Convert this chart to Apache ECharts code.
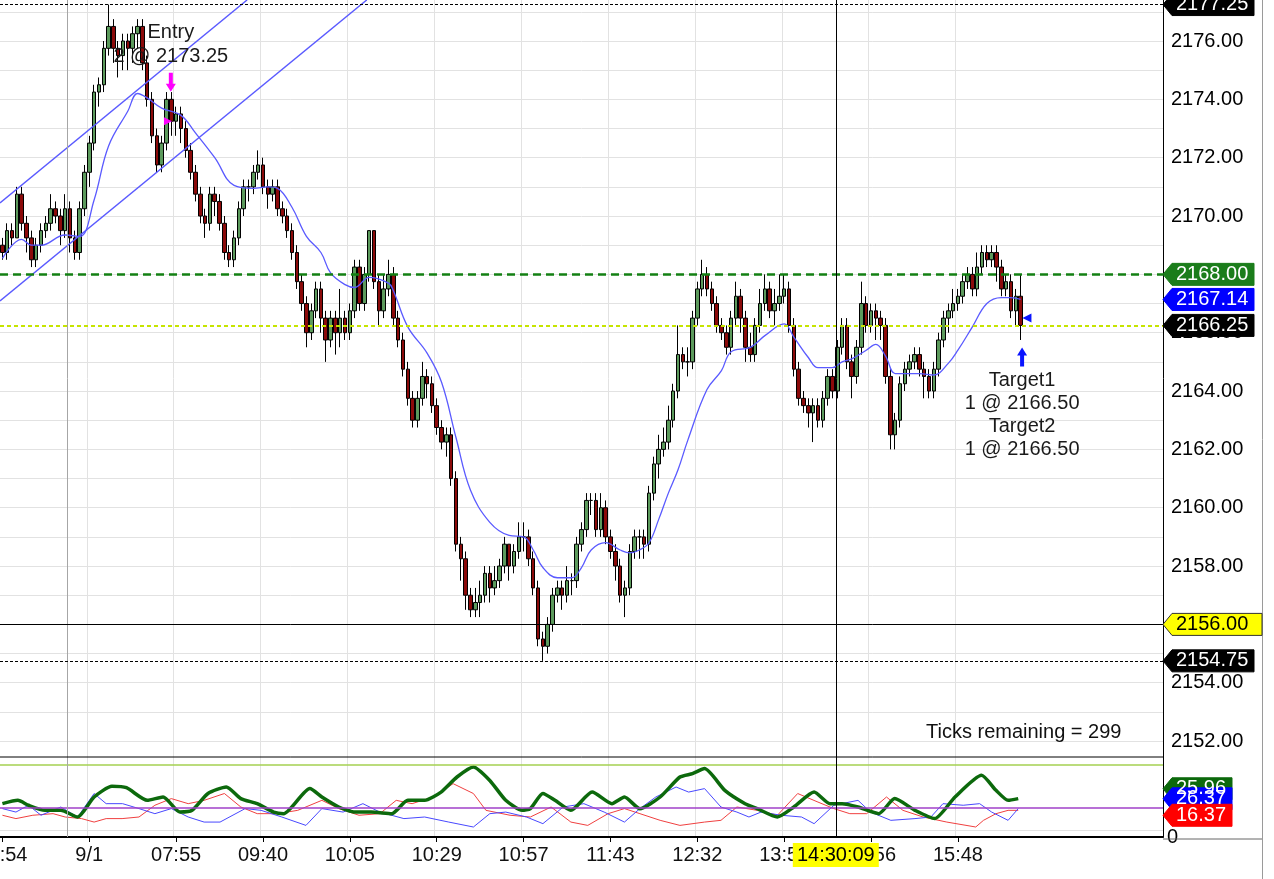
<!DOCTYPE html>
<html>
<head>
<meta charset="utf-8">
<script src="https://cdn.jsdelivr.net/npm/echarts@6/dist/echarts.min.js"></script>
<style>
  html, body { margin: 0; padding: 0; background: #fff; }
  #main { width: 1274px; height: 879px; }
</style>
</head>
<body>
<div id="main"></div>
<script>
// bar data (tick bars)
var opens = [
  2169.0,2168.75,2169.5,2169.25,2170.75,2169.75,2169.25,2168.5,2169.0,2169.5,
  2169.75,2170.25,2170.0,2169.5,2170.25,2169.25,2168.75,2170.25,2171.5,2172.5,
  2174.25,2174.5,2175.75,2176.5,2175.75,2175.5,2176.0,2175.75,2176.25,2176.5,
  2175.25,2174.0,2172.75,2171.75,2172.5,2174.0,2173.25,2173.5,2173.0,2172.25,
  2171.5,2170.75,2170.0,2169.75,2170.75,2170.5,2169.75,2168.75,2168.5,2169.25,
  2170.25,2171.0,2171.0,2171.5,2171.75,2171.0,2170.75,2171.0,2170.25,2170.0,
  2169.5,2168.75,2167.75,2167.0,2166.0,2166.75,2167.5,2166.5,2165.75,2166.5,
  2166.0,2166.5,2166.0,2166.75,2168.25,2167.0,2168.0,2169.5,2167.75,2166.75,
  2167.5,2168.0,2166.5,2165.75,2164.75,2163.75,2163.0,2163.75,2164.5,2164.25,
  2163.5,2162.75,2162.25,2162.5,2161.0,2158.75,2158.25,2157.0,2156.5,2156.75,
  2157.0,2157.75,2157.25,2157.5,2158.0,2158.75,2158.0,2158.5,2159.0,2159.0,
  2158.25,2157.25,2155.5,2155.25,2156.0,2157.0,2157.25,2157.0,2157.5,2157.5,
  2158.75,2159.25,2160.25,2160.25,2159.25,2160.0,2159.0,2158.5,2158.0,2157.0,
  2157.25,2158.5,2159.0,2159.0,2158.75,2160.5,2161.5,2162.0,2162.25,2163.0,
  2164.0,2165.25,2165.0,2165.0,2166.5,2167.5,2168.0,2167.5,2167.0,2166.25,
  2166.0,2165.5,2166.5,2167.25,2166.5,2165.5,2165.25,2166.25,2167.0,2167.5,
  2166.75,2167.0,2167.25,2167.5,2166.25,2164.75,2163.75,2163.5,2163.25,2163.5,
  2163.0,2163.75,2164.5,2164.0,2165.5,2166.25,2165.0,2164.5,2165.5,2167.0,
  2166.25,2166.75,2166.5,2166.25,2164.5,2162.5,2163.0,2164.25,2164.75,2165.0,
  2165.25,2164.75,2164.5,2164.0,2164.75,2165.75,2166.5,2166.75,2167.0,2167.25,
  2167.75,2168.0,2167.5,2168.25,2168.75,2168.5,2168.75,2168.25,2167.5,2167.75,
  2166.75,2167.25
];
var closes = [
  2168.75,2169.5,2169.25,2170.75,2169.75,2169.25,2168.5,2169.0,2169.5,2169.75,
  2170.25,2170.0,2169.5,2170.25,2169.25,2168.75,2170.25,2171.5,2172.5,2174.25,
  2174.5,2175.75,2176.5,2175.75,2175.5,2176.0,2175.75,2176.25,2176.5,2175.25,
  2174.0,2172.75,2171.75,2172.5,2174.0,2173.25,2173.5,2173.0,2172.25,2171.5,
  2170.75,2170.0,2169.75,2170.75,2170.5,2169.75,2168.75,2168.5,2169.25,2170.25,
  2171.0,2171.0,2171.5,2171.75,2171.0,2170.75,2171.0,2170.25,2170.0,2169.5,
  2168.75,2167.75,2167.0,2166.0,2166.75,2167.5,2166.5,2165.75,2166.5,2166.0,
  2166.5,2166.0,2166.75,2168.25,2167.0,2168.0,2169.5,2167.75,2166.75,2167.5,
  2168.0,2166.5,2165.75,2164.75,2163.75,2163.0,2163.75,2164.5,2164.25,2163.5,
  2162.75,2162.25,2162.5,2161.0,2158.75,2158.25,2157.0,2156.5,2156.75,2157.0,
  2157.75,2157.25,2157.5,2158.0,2158.75,2158.0,2158.5,2159.0,2159.0,2158.25,
  2157.25,2155.5,2155.25,2156.0,2157.0,2157.25,2157.0,2157.5,2157.5,2158.75,
  2159.25,2160.25,2160.25,2159.25,2160.0,2159.0,2158.5,2158.0,2157.0,2157.25,
  2158.5,2159.0,2159.0,2158.75,2160.5,2161.5,2162.0,2162.25,2163.0,2164.0,
  2165.25,2165.0,2165.0,2166.5,2167.5,2168.0,2167.5,2167.0,2166.25,2166.0,
  2165.5,2166.5,2167.25,2166.5,2165.5,2165.25,2166.25,2167.0,2167.5,2166.75,
  2167.0,2167.25,2167.5,2166.25,2164.75,2163.75,2163.5,2163.25,2163.5,2163.0,
  2163.75,2164.5,2164.0,2165.5,2166.25,2165.0,2164.5,2165.5,2167.0,2166.25,
  2166.75,2166.5,2166.25,2164.5,2162.5,2163.0,2164.25,2164.75,2165.0,2165.25,
  2164.75,2164.5,2164.0,2164.75,2165.75,2166.5,2166.75,2167.0,2167.25,2167.75,
  2168.0,2167.5,2168.25,2168.75,2168.5,2168.75,2168.25,2167.5,2167.75,2166.75,
  2167.25,2166.25
];
var lows = [
  2168.5,2168.5,2169.0,2169.25,2169.5,2168.75,2168.25,2168.25,2168.75,2169.25,
  2169.5,2169.75,2169.0,2169.25,2168.75,2168.5,2168.5,2170.0,2171.0,2172.25,
  2173.75,2174.25,2175.5,2175.25,2174.75,2175.0,2175.0,2175.25,2175.75,2175.0,
  2173.75,2172.5,2171.5,2171.5,2172.25,2172.75,2172.75,2172.5,2172.0,2171.25,
  2170.5,2169.75,2169.25,2169.5,2170.0,2169.5,2168.5,2168.25,2168.25,2169.0,
  2170.0,2170.5,2170.75,2171.25,2170.75,2170.25,2170.5,2170.0,2169.75,2169.25,
  2168.5,2167.5,2166.75,2165.5,2165.75,2166.5,2166.0,2165.0,2165.5,2165.25,
  2165.5,2165.75,2165.75,2166.5,2166.75,2166.75,2167.75,2167.5,2166.25,2166.5,
  2167.25,2166.25,2165.5,2164.5,2163.5,2162.75,2162.75,2163.5,2163.75,2163.25,
  2162.5,2162.0,2161.75,2160.75,2158.5,2157.5,2156.5,2156.25,2156.25,2156.25,
  2156.75,2156.75,2157.0,2157.25,2157.75,2157.5,2157.75,2158.25,2158.5,2158.0,
  2157.0,2155.25,2154.75,2155.0,2155.75,2156.75,2156.5,2156.75,2157.0,2157.25,
  2158.5,2159.0,2159.75,2159.0,2159.0,2158.75,2158.25,2157.5,2156.75,2156.25,
  2157.0,2158.25,2158.25,2158.25,2158.5,2160.25,2161.0,2161.75,2162.0,2162.75,
  2163.75,2164.75,2164.5,2164.75,2166.25,2167.25,2167.25,2166.75,2166.0,2165.75,
  2165.25,2165.25,2166.25,2166.0,2165.0,2165.0,2165.0,2166.0,2166.75,2166.5,
  2166.25,2166.75,2167.0,2166.0,2164.5,2163.5,2163.25,2162.75,2162.25,2162.75,
  2162.75,2163.5,2163.75,2163.75,2165.25,2164.75,2163.75,2164.25,2165.25,2166.0,
  2166.0,2165.75,2165.75,2164.25,2162.0,2162.0,2162.75,2164.0,2164.5,2164.75,
  2164.5,2163.75,2163.75,2163.75,2164.5,2165.5,2166.0,2166.5,2166.75,2167.0,
  2167.5,2167.25,2167.25,2168.0,2168.25,2168.25,2167.75,2167.25,2167.25,2166.5,
  2166.25,2165.75
];
var highs = [
  2169.25,2169.75,2169.75,2171.0,2171.0,2170.0,2169.5,2169.25,2169.75,2170.0,
  2170.75,2170.5,2170.25,2170.75,2170.5,2169.5,2170.5,2171.75,2172.75,2174.5,
  2174.75,2176.0,2177.25,2176.75,2176.0,2176.25,2176.25,2176.5,2176.75,2176.75,
  2175.5,2174.25,2173.0,2172.75,2174.25,2174.25,2173.75,2173.75,2173.25,2172.5,
  2171.75,2171.0,2170.25,2171.0,2171.0,2170.75,2170.0,2169.0,2169.5,2170.5,
  2171.25,2171.25,2171.75,2172.25,2172.0,2171.25,2171.25,2171.25,2170.5,2170.25,
  2169.75,2169.0,2168.0,2167.25,2167.0,2167.75,2167.75,2166.75,2166.75,2166.75,
  2167.5,2166.75,2167.0,2168.5,2168.5,2168.25,2169.5,2169.5,2168.0,2168.0,
  2168.5,2168.25,2166.75,2166.0,2165.0,2164.0,2164.0,2165.0,2164.75,2164.5,
  2163.75,2163.0,2162.75,2162.75,2161.25,2159.0,2158.5,2157.25,2157.25,2157.5,
  2158.0,2158.0,2158.0,2158.25,2159.0,2158.75,2158.75,2159.5,2159.5,2159.25,
  2158.5,2157.5,2155.75,2156.25,2157.25,2157.5,2157.5,2158.0,2157.75,2159.0,
  2159.5,2160.5,2160.5,2160.5,2160.5,2160.25,2159.25,2158.75,2158.25,2157.5,
  2158.75,2159.25,2159.25,2159.25,2160.75,2161.75,2162.5,2162.75,2163.5,2164.25,
  2166.25,2165.5,2165.5,2166.75,2167.75,2168.5,2168.25,2167.75,2167.25,2166.5,
  2166.25,2166.75,2167.75,2167.5,2166.75,2166.0,2166.5,2167.5,2168.0,2167.75,
  2167.5,2168.0,2168.0,2167.75,2166.5,2165.0,2164.0,2163.75,2163.75,2163.75,
  2164.0,2164.75,2164.75,2165.75,2166.5,2166.5,2165.25,2165.75,2167.75,2167.25,
  2167.0,2167.0,2166.75,2166.5,2164.75,2163.25,2164.5,2165.0,2165.25,2165.5,
  2165.5,2165.0,2164.75,2165.0,2166.0,2166.75,2167.0,2167.5,2167.5,2168.0,
  2168.25,2168.25,2168.75,2169.0,2169.0,2169.0,2169.0,2168.5,2168.0,2168.0,
  2167.5,2168.0
];

// moving average [bar, price]
var maPoints = [
  [0,2168.55],[4,2169.2],[6,2169.0],[8,2169.0],[13,2169.35],[16,2169.3],[19,2170.55],
  [22,2172.4],[26,2173.6],[28,2174.2],[30,2174.05],[33,2173.7],[37,2173.45],[40,2172.85],
  [44,2172.0],[48,2171.05],[52,2170.95],[55,2171.0],[57,2170.95],[60,2170.3],[63,2169.3],
  [66,2168.75],[68,2168.05],[71,2167.65],[73,2167.55],[76,2167.9],[80,2167.7],[81,2167.45],
  [84,2166.2],[88,2165.3],[91,2164.3],[94,2162.4],[97,2160.6],[101,2159.5],[105,2159.05],
  [108,2159.0],[110,2158.55],[112,2157.95],[115,2157.6],[118,2157.6],[120,2157.95],
  [122,2158.55],[125,2158.8],[128,2158.55],[130,2158.45],[132,2158.55],[134,2158.8],
  [136,2159.6],[138,2160.5],[140,2161.3],[142,2162.3],[146,2164.05],[149,2164.7],
  [151,2165.35],[155,2165.5],[158,2165.9],[162,2166.3],[164,2165.85],[167,2165.15],
  [169,2164.8],[172,2164.8],[174,2165.0],[176,2165.1],[179,2165.4],[181,2165.6],
  [183,2165.2],[185,2164.6],[187,2164.6],[190,2164.6],[193,2164.55],[196,2164.95],
  [198,2165.4],[201,2166.2],[204,2167.0],[207,2167.2],[209,2167.2],[211,2167.14]
];
var channelUpper = [[-0.5,2170.45],[50.7,2177.41]];
var channelLower = [[-0.5,2167.09],[75.5,2177.41]];

// lower panel: ADX, +DI, -DI  [bar, value]
var adxPoints = [
  [0,23],[3.2,25.3],[5.4,21.9],[8.8,18.4],[12.1,18.4],[15.6,13.8],[19,27.6],[22.7,35],
  [25.7,34],[30,25.3],[33.3,27.6],[36.8,17.2],[39.3,18.4],[42.6,30],[46.4,34.5],[49.4,26.5],
  [52.8,23],[56.2,17.2],[58.3,16.1],[63.7,33.4],[66.2,27.6],[69.7,20.7],[73.1,17.2],
  [76.4,17.2],[80.7,16.1],[84,25.3],[87.5,25.3],[90.9,31],[94.2,41.4],[97.6,48.3],[101,39],
  [104.3,25.3],[107.7,18.4],[109.4,19.6],[112,30],[114.5,25.3],[117.8,18.4],[122.2,31],
  [126.3,23],[128.9,27.6],[132.1,19.5],[136.3,27.6],[140.4,41.4],[143,43.7],[145.5,47.2],
  [149.7,32.2],[153.9,23],[156.4,19.6],[160.6,13.8],[164,20.7],[168.2,31],[171.5,23],
  [174,23],[177.3,20.7],[181.6,16.1],[184.9,26.5],[189.1,18.4],[193.2,12.7],[197.4,27.6],
  [202.9,42.6],[205.9,32.2],[208.4,25.3],[210.5,26.5]
];
var plusDiPoints = [
  [0,19.6],[2.8,17.2],[5.4,21.9],[8,15],[12.1,20.7],[15.6,13.8],[19,30],[21.5,23],[24.9,23],
  [28.3,19.6],[31.6,16.1],[35,19.6],[38.5,13.8],[41.8,10.3],[45.1,10.3],[50.3,19.6],[53.6,18.4],
  [57.9,13.8],[62.9,8],[66.2,19.6],[70.6,17.2],[74.7,23],[78.2,17.2],[83.2,12.7],[87.5,13.8],
  [92.5,10.3],[97.6,6.9],[101,16.1],[104.3,17.2],[108.6,13.8],[112,9.2],[116.2,20.7],
  [120.5,23],[124.7,17.2],[128.9,10.3],[132.1,19.6],[135.4,27.6],[139.6,34.5],[142.2,31],
  [145.5,33.4],[148.9,20.7],[152.2,17.2],[154.7,13.8],[157.2,17.2],[161.4,15],[165.6,13.8],
  [168.2,9.2],[172.3,21.9],[177.3,25.3],[179.9,17.2],[184.1,11.5],[189.1,12.7],[192.4,13.8],
  [194.9,23],[199.1,21.9],[202.5,23],[205,17.2],[208.4,11.5],[210.5,19.6]
];
var minusDiPoints = [
  [0,15],[2.8,12.7],[6.3,15],[10.5,16.1],[13,13.8],[16.4,12.7],[19,10.3],[21.5,12.7],
  [24.8,12.7],[28.3,13.8],[31.6,21.9],[35,26.5],[38.5,23],[41.8,25.3],[46,30],[49.4,20.7],
  [52.8,16.1],[57,16.1],[61.2,18.4],[66.2,25.3],[69.7,19.6],[73.9,15],[78.2,16.1],[81.6,25.3],
  [84.9,23],[89.2,27.6],[93.4,36.8],[97.6,30],[100.2,18.4],[105.2,15],[109.4,13.8],
  [113.7,20.7],[117.8,10.3],[121.3,8],[125.5,16.1],[128.9,19.6],[132.1,16.1],[136.3,11.5],
  [140.4,8],[145.5,10.3],[148.9,11.5],[152.2,20.7],[156.4,18.4],[160.6,15],[164.8,30],
  [169,24.1],[172.3,19.6],[175.6,16.1],[179.1,16.1],[183.2,27.6],[186.6,18.4],[190.8,13.8],
  [195.7,10.3],[201.7,6.9],[203.3,11.5],[205.9,16.1],[208.4,18.4],[210.5,18.4]
];

var tickLabels = ['15:54','9/1','07:55','09:40','10:05','10:29','10:57','11:43','12:32','13:54','14:56','15:48'];
var priceLabels = [2152,2154,2156,2158,2160,2162,2164,2166,2168,2170,2172,2174,2176];
var priceGrid = [];
for (var p = 2152; p <= 2177; p++) priceGrid.push(p);

var entryMark = [34.9, 2174.59];
var entryFill = [34.3, 2173.25];
var targetMark = [211.3, 2165.17];
var targetFill = [212.3, 2166.5];
var crossBar = 172.7, crossPrice = 2156.0;
var sessionBar = 13.4;

var N_CAT = 241, STEP = 18;
var cats = [];
for (var i = 0; i < N_CAT; i++) cats.push(String(i));
var candles = opens.map(function (o, i) { return [o, closes[i], lows[i], highs[i]]; });

var FONT = '"Liberation Sans", Arial, sans-serif';
var GRIDC = '#e2e2e2';
function showTick(index) { return index % STEP === 0 && index / STEP < tickLabels.length; }
function showSplit(index) { return index > 0 && showTick(index); }

var chart = echarts.init(document.getElementById('main'));

var option = {
  animation: false,
  backgroundColor: '#fff',
  textStyle: { fontFamily: FONT },
  grid: [
    { left: 0, right: 111, top: 0, height: 757, containLabel: false, outerBoundsMode: 'none' },
    { left: 0, right: 111, top: 757, height: 80, containLabel: false, outerBoundsMode: 'none' }
  ],
  xAxis: [
    { type: 'category', gridIndex: 0, data: cats, boundaryGap: true,
      axisLine: { show: false }, axisTick: { show: false }, axisLabel: { show: false },
      splitLine: { show: true, interval: showSplit, lineStyle: { color: GRIDC, width: 1 } } },
    { type: 'category', gridIndex: 1, data: cats, boundaryGap: true,
      axisLine: { show: true, onZero: false, lineStyle: { color: '#000', width: 2 } },
      axisTick: { show: true, alignWithLabel: true, interval: showTick, length: 5, lineStyle: { color: '#000' } },
      axisLabel: { interval: showTick, fontSize: 20, color: '#111', margin: 8,
        formatter: function (v, idx) { return tickLabels[Math.round(idx / STEP)] || ''; } },
      splitLine: { show: true, interval: showSplit, lineStyle: { color: GRIDC, width: 1 } } },
    { type: 'value', gridIndex: 0, min: -0.5, max: N_CAT - 0.5, show: false },
    { type: 'value', gridIndex: 1, min: -0.5, max: N_CAT - 0.5, show: false }
  ],
  yAxis: [
    { type: 'value', gridIndex: 0, position: 'right', min: 2151.454, max: 2177.406,
      axisLine: { show: true, onZero: false, lineStyle: { color: '#000', width: 1 } },
      axisTick: { show: false, customValues: priceGrid },
      axisLabel: { customValues: priceLabels, fontSize: 20, color: '#000', margin: 8,
        formatter: function (v) { return Number(v).toFixed(2); } },
      splitLine: { show: true, lineStyle: { color: GRIDC, width: 1 } } },
    { type: 'value', gridIndex: 1, position: 'right', min: 0, max: 55.2,
      axisLine: { show: true, onZero: false, lineStyle: { color: '#000', width: 1 } },
      axisTick: { show: false },
      axisLabel: { customValues: [0], fontSize: 20, color: '#000', margin: 4 },
      splitLine: { show: false } }
  ],
  series: [
    { type: 'candlestick', xAxisIndex: 0, yAxisIndex: 0, data: candles, barWidth: 4,
      itemStyle: { color: '#5c9a5c', color0: '#8b0a0a', borderColor: '#000', borderColor0: '#000', borderWidth: 1 } },
    { type: 'line', xAxisIndex: 2, yAxisIndex: 0, data: maPoints, smooth: 0.4, symbol: 'none',
      lineStyle: { color: '#5a5aff', width: 1.3 }, z: 3,
      markLine: { silent: true, symbol: ['none', 'none'], label: { show: false },
        data: [
          { xAxis: sessionBar, lineStyle: { color: '#a6a6a6', width: 1, type: 'solid' } },
          { yAxis: 2177.25, lineStyle: { color: '#000', width: 1, type: [3, 2] } },
          { yAxis: 2154.75, lineStyle: { color: '#000', width: 1, type: [3, 2] } },
          { yAxis: 2168.0, lineStyle: { color: '#138013', width: 2.5, type: [8, 5] } },
          { yAxis: 2166.25, lineStyle: { color: '#c6e400', width: 2, type: [4, 3] } },
          { yAxis: crossPrice, lineStyle: { color: '#000', width: 1, type: 'solid' } },
          { xAxis: crossBar, lineStyle: { color: '#000', width: 1, type: 'solid' } }
        ] } },
    { type: 'line', xAxisIndex: 2, yAxisIndex: 0, data: channelUpper, symbol: 'none',
      lineStyle: { color: '#5a5aff', width: 1.3 } },
    { type: 'line', xAxisIndex: 2, yAxisIndex: 0, data: channelLower, symbol: 'none',
      lineStyle: { color: '#5a5aff', width: 1.3 } },
    { type: 'scatter', xAxisIndex: 2, yAxisIndex: 0, z: 5, itemStyle: { opacity: 1 },
      data: [
        { value: entryMark, symbol: 'path://M3,0L7,0L7,11L10,11L5,19L0,11L3,11Z', symbolSize: [10, 19],
          itemStyle: { color: '#ff00ff', opacity: 1 },
          label: { show: true, position: 'top', distance: 4, formatter: 'Entry\n2 @ 2173.25',
            fontSize: 20, lineHeight: 24, color: '#1a1a1a', align: 'center', opacity: 1 } },
        { value: entryFill, symbol: 'triangle', symbolSize: 8, symbolRotate: -90, itemStyle: { color: '#ff00ff', opacity: 1 } },
        { value: targetMark, symbol: 'path://M5,0L10,8L7,8L7,19L3,19L3,8L0,8Z', symbolSize: [10, 19],
          itemStyle: { color: '#0a14ff', opacity: 1 },
          label: { show: true, position: 'bottom', distance: 3,
            formatter: 'Target1\n1 @ 2166.50\nTarget2\n1 @ 2166.50',
            fontSize: 20, lineHeight: 23, color: '#1a1a1a', align: 'center', opacity: 1 } },
        { value: targetFill, symbol: 'triangle', symbolSize: 9, symbolRotate: 90, itemStyle: { color: '#0a14ff', opacity: 1 } }
      ] },
    { type: 'line', xAxisIndex: 3, yAxisIndex: 1, data: minusDiPoints, symbol: 'none',
      lineStyle: { color: '#f04040', width: 1 } },
    { type: 'line', xAxisIndex: 3, yAxisIndex: 1, data: plusDiPoints, symbol: 'none',
      lineStyle: { color: '#4848ff', width: 1 } },
    { type: 'line', xAxisIndex: 3, yAxisIndex: 1, data: adxPoints, symbol: 'none', smooth: 0.2,
      lineStyle: { color: '#0c690c', width: 3.5 }, z: 4,
      markLine: { silent: true, symbol: ['none', 'none'], label: { show: false },
        data: [
          { yAxis: 4.7, lineStyle: { color: GRIDC, width: 1, type: 'solid' } },
          { yAxis: 20, lineStyle: { color: '#a040c8', width: 1.5, type: 'solid' } },
          { yAxis: 50, lineStyle: { color: '#a4d050', width: 1.5, type: 'solid' } },
          { xAxis: sessionBar, lineStyle: { color: '#a6a6a6', width: 1, type: 'solid' } },
          { xAxis: crossBar, lineStyle: { color: '#000', width: 1, type: 'solid' } }
        ] } }
  ]
};
chart.setOption(option);

// price flags, panel separators and cursor label
function py(v) { return chart.convertToPixel({ yAxisIndex: 0 }, v); }
function iy(v) { return chart.convertToPixel({ yAxisIndex: 1 }, v); }
function ix(v) { return chart.convertToPixel({ xAxisIndex: 2 }, v); }

var AX = 1163, ZG = 300;
function flag(y, txt, bg, fg, right, stroke) {
  return { type: 'group', children: [
    { type: 'polygon', z: ZG, shape: { points: [[AX, y], [AX + 9, y - 11], [right, y - 11], [right, y + 11], [AX + 9, y + 11]] },
      style: { fill: bg, stroke: stroke || bg, lineWidth: 1 } },
    { type: 'text', z: ZG + 1, x: AX + 13, y: y, style: { text: txt, fill: fg, font: '20px ' + FONT, verticalAlign: 'middle' } }
  ] };
}

var g = [];
g.push({ type: 'line', z: ZG, shape: { x1: 0, y1: 757, x2: AX, y2: 757 }, style: { stroke: '#000', lineWidth: 1 } });
g.push({ type: 'line', z: ZG, shape: { x1: AX, y1: 839, x2: 1262, y2: 839 }, style: { stroke: '#666', lineWidth: 1 } });
g.push({ type: 'line', z: ZG, shape: { x1: 1262.5, y1: 0, x2: 1262.5, y2: 879 }, style: { stroke: '#9a9a9a', lineWidth: 1 } });

g.push(flag(py(2177.25), '2177.25', '#000', '#fff', 1254));
g.push(flag(py(2168.0), '2168.00', '#1b7d1b', '#fff', 1254));
g.push(flag(py(2167.14), '2167.14', '#0000ff', '#fff', 1254));
g.push(flag(py(2166.25), '2166.25', '#000', '#fff', 1254));
g.push(flag(py(crossPrice), '2156.00', '#ffff00', '#000', 1262, '#333'));
g.push(flag(py(2154.75), '2154.75', '#000', '#fff', 1254));

var yRed = iy(16.37) + 2, yBlue = iy(26.37), yGreen = yBlue - 10;
g.push(flag(yGreen, '25.96', '#0c690c', '#fff', 1232));
g.push(flag(yBlue, '26.37', '#0000ff', '#fff', 1232));
g.push(flag(yRed, '16.37', '#ff0000', '#fff', 1232));

var cx = ix(crossBar);
g.push({ type: 'group', children: [
  { type: 'rect', z: ZG, shape: { x: cx - 43, y: 843, width: 86, height: 24 }, style: { fill: '#ffff00' } },
  { type: 'text', z: ZG + 1, x: cx, y: 855, style: { text: '14:30:09', fill: '#000', font: '20px ' + FONT, align: 'center', verticalAlign: 'middle' } }
] });

g.push({ type: 'text', z: ZG, x: 926, y: 732, style: { text: 'Ticks remaining = 299', fill: '#111', font: '20px ' + FONT, verticalAlign: 'middle' } });

chart.setOption({ graphic: g });
</script>
</body>
</html>
